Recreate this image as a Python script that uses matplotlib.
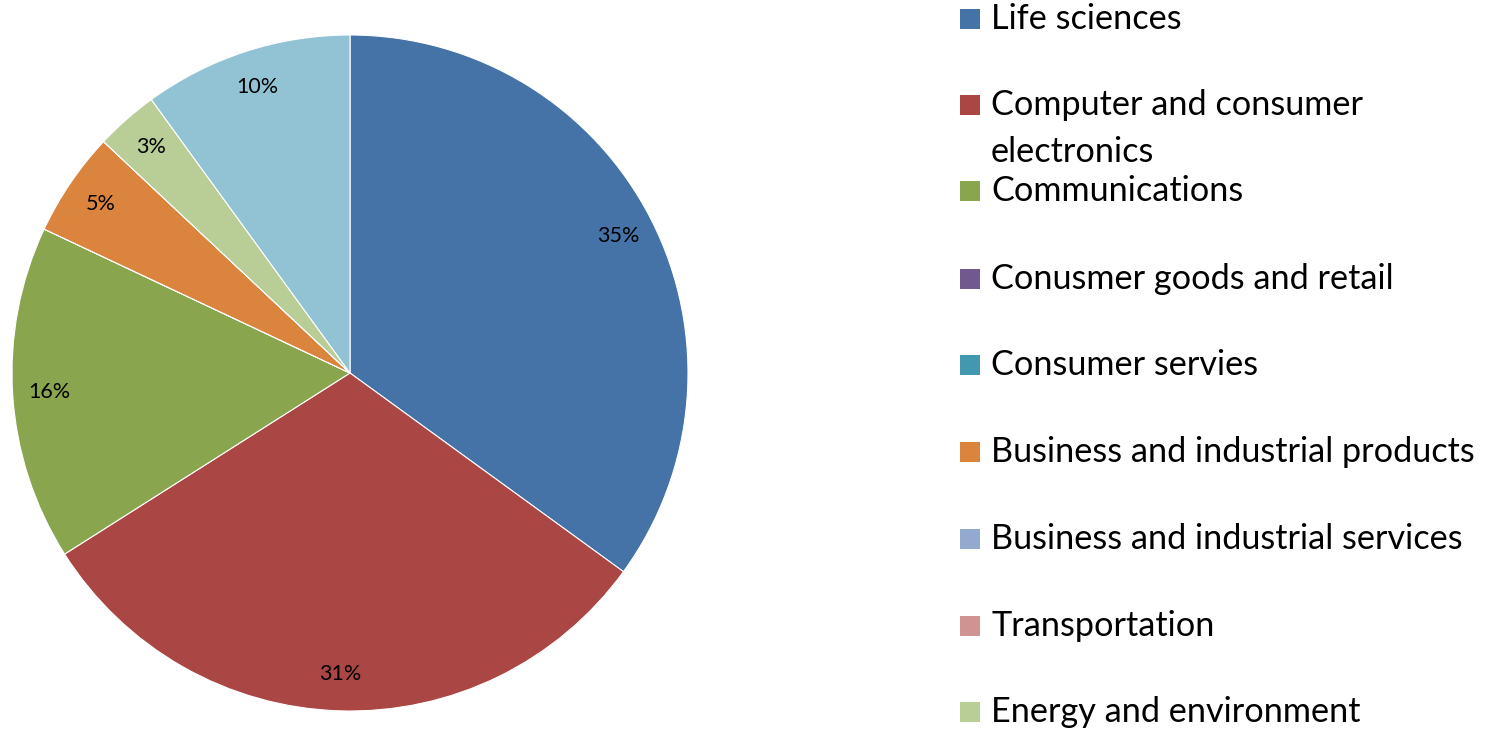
import matplotlib
matplotlib.use('Agg')
import matplotlib.pyplot as plt
from matplotlib.patches import Rectangle

categories = ['Life sciences', 'Computer and consumer\nelectronics', 'Communications',
              'Conusmer goods and retail', 'Consumer servies',
              'Business and industrial products', 'Business and industrial services',
              'Transportation', 'Energy and environment', 'Other']
shares = [35, 31, 16, 0, 0, 5, 0, 0, 3, 10]
colors = ['#4572A7', '#AA4643', '#89A54E', '#71588F', '#4198AF',
          '#DB843D', '#93A9CF', '#D19392', '#B9CD96', '#91C3D5']

plt.rcParams['font.family'] = ['Lato', 'DejaVu Sans']

W, H = 1498, 732
fig = plt.figure(figsize=(W / 100, H / 100), dpi=100)

# pie: centre (350, 373) px, radius 338 px
cx, cy, r = 350, 373, 338
ax = fig.add_axes([(cx - r) / W, (H - cy - r) / H, 2 * r / W, 2 * r / H])

def pct(p):
    return f'{p:.0f}%' if p > 0.5 else ''

ax.pie(shares, colors=colors, startangle=90, counterclock=False,
       autopct=pct, pctdistance=0.89,
       wedgeprops=dict(edgecolor='white', linewidth=0.8),
       textprops=dict(fontsize=15.5, color='black'))
ax.set_xlim(-1, 1)
ax.set_ylim(-1, 1)
ax.set_aspect('equal')

# legend (last category is cut off in the original)
ys = [19, 105, 191, 279, 365, 452, 539, 626, 712]
for name, col, y in zip(categories[:9], colors[:9], ys):
    fig.patches.append(Rectangle((960 / W, 1 - (y + 10) / H), 20 / W, 20 / H,
                                 transform=fig.transFigure, facecolor=col,
                                 edgecolor='none'))
    for i, line in enumerate(name.split('\n')):
        fig.text(991 / W, 1 - (y + 47 * i) / H, line, fontsize=24.7,
                 va='center', ha='left')

fig.savefig('out.png', dpi=100)
